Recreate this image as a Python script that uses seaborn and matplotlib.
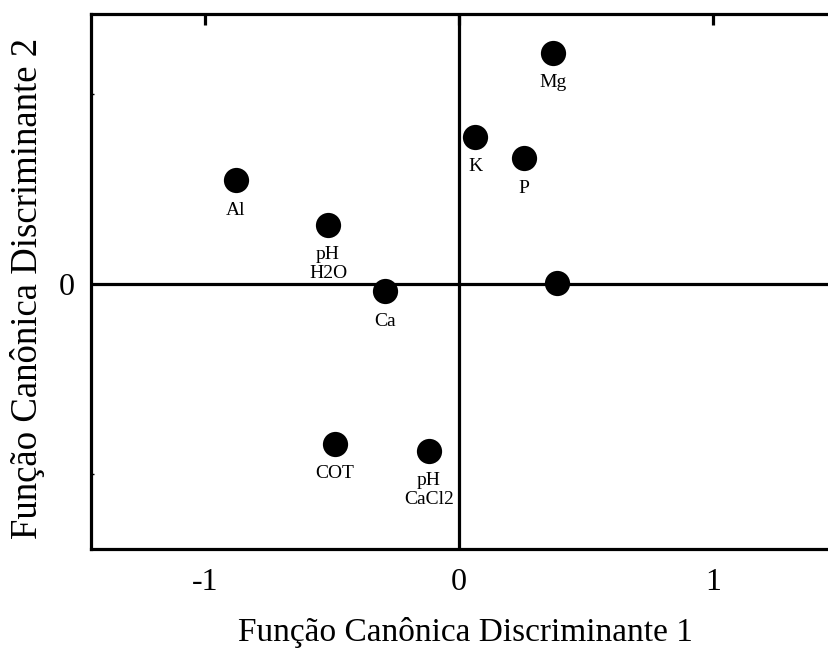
import matplotlib
matplotlib.use("Agg")
import matplotlib.pyplot as plt
import seaborn as sns
import pandas as pd

# Canonical discriminant structure coefficients
labels = ["Mg", "K", "P", "Al", "pH\nH2O", "Ca", "", "COT", "pH\nCaCl2"]
func1 = [0.370, 0.063, 0.256, -0.878, -0.516, -0.291, 0.386, -0.488, -0.118]
func2 = [1.216, 0.774, 0.663, 0.547, 0.311, -0.037, 0.005, -0.842, -0.879]

x_ticks = [-1, 0, 1]
x_ticklabels = ["-1", "0", "1"]
y_ticks = [0]
y_ticklabels = ["0"]

sns.set_style("white")
plt.rcParams["font.family"] = ["Liberation Serif", "DejaVu Serif"]
plt.rcParams["text.color"] = "black"
plt.rcParams["axes.labelcolor"] = "black"
plt.rcParams["xtick.color"] = "black"
plt.rcParams["ytick.color"] = "black"

df = pd.DataFrame({"f1": func1, "f2": func2, "lab": labels})

fig = plt.figure(figsize=(8.29, 6.5), dpi=100)
ax = fig.add_axes([91 / 829, 101 / 650, 749 / 829, 535 / 650])

ax.axhline(0, color="black", lw=2.3, zorder=1)
ax.axvline(0, color="black", lw=2.3, zorder=1)

sns.scatterplot(data=df, x="f1", y="f2", ax=ax, s=330, color="black",
                edgecolor="black", linewidth=0, zorder=3, legend=False)

for xv, yv, t in zip(df.f1, df.f2, df.lab):
    if t:
        ax.annotate(t, (xv, yv), xytext=(0, -15.5), textcoords="offset points",
                    ha="center", va="top", fontsize=14, linespacing=1.1,
                    color="black")

ax.set_xlim(-1.449, 1.5)
ax.set_ylim(-1.395, 1.421)
ax.set_xticks(x_ticks)
ax.set_xticklabels(x_ticklabels)
ax.set_yticks(y_ticks)
ax.set_yticklabels(y_ticklabels)
ax.set_yticks([-1, 1], minor=True)

ax.tick_params(axis="both", which="major", direction="in", length=8, width=2.3,
               labelsize=23, top=True)
ax.tick_params(axis="x", which="major", pad=14)
ax.tick_params(axis="y", which="major", length=0, pad=12)
ax.tick_params(axis="y", which="minor", direction="in", length=2, width=1, left=True)

for side in ["left", "bottom", "top", "right"]:
    ax.spines[side].set_linewidth(2.3)
    ax.spines[side].set_color("black")

ax.set_xlabel("Função Canônica Discriminante 1", fontsize=24, labelpad=14)
ax.set_ylabel("Função Canônica Discriminante 2", fontsize=26.5)
ax.yaxis.set_label_coords(-46 / 749, 0.487)

fig.savefig("out.png", dpi=100)
